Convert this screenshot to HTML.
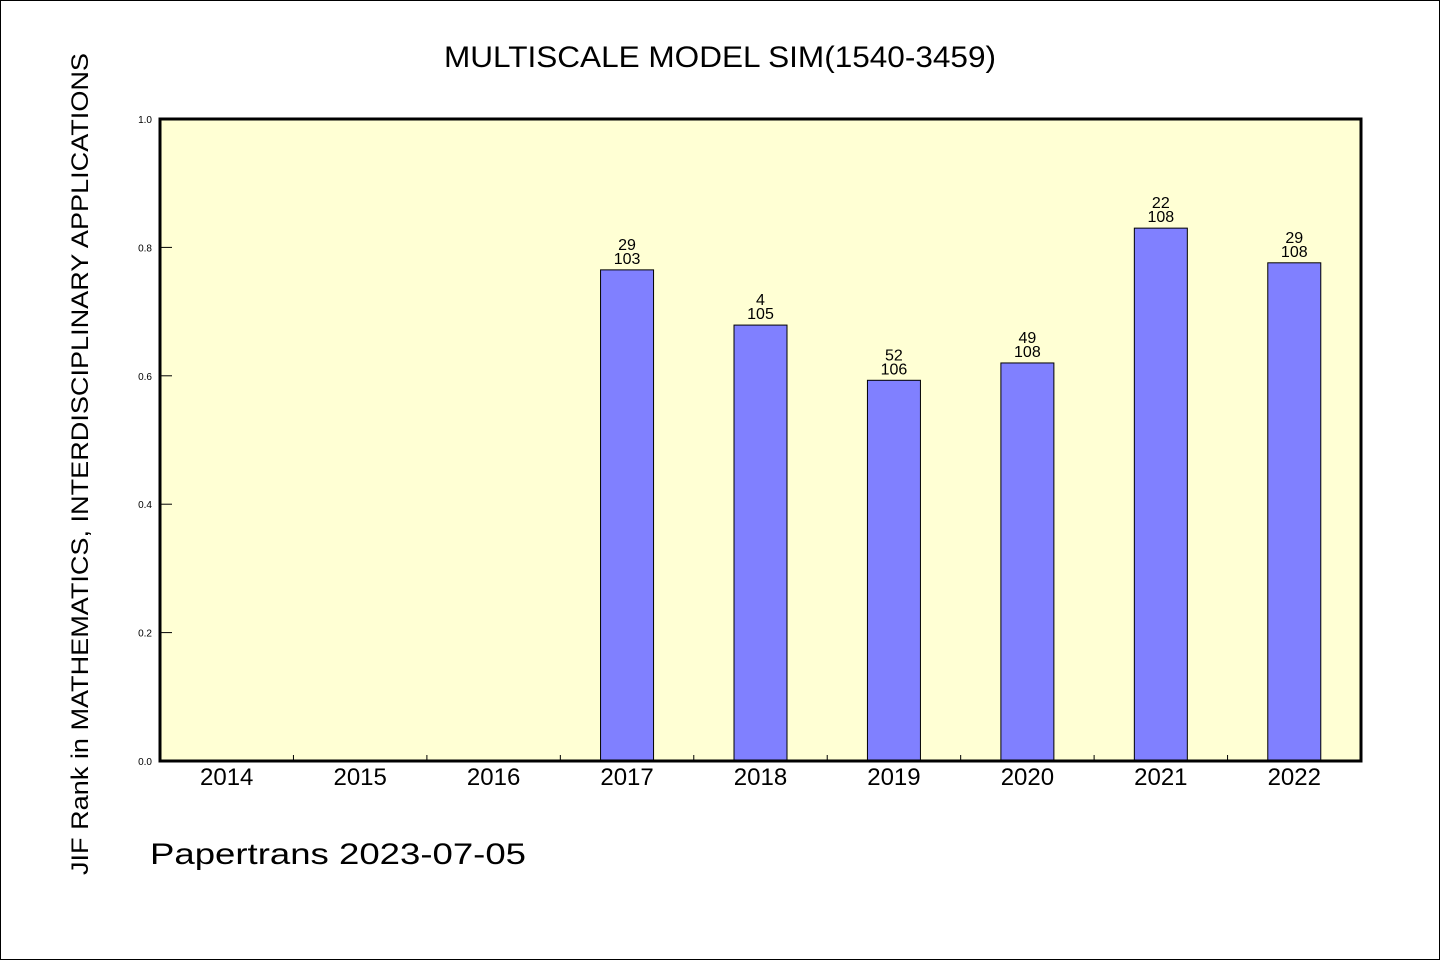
<!DOCTYPE html>
<html><head><meta charset="utf-8"><style>
body{margin:0;background:#fff}
svg{display:block}
text{font-family:"Liberation Sans","WenQuanYi Zen Hei",sans-serif;fill:#000}
</style></head><body>
<svg id="c" width="1440" height="960" xmlns="http://www.w3.org/2000/svg">
<rect x="0.5" y="0.5" width="1439" height="959" fill="#fff" stroke="#000"/>
<text x="720" y="67" font-size="30" text-anchor="middle" textLength="552" lengthAdjust="spacingAndGlyphs">MULTISCALE MODEL SIM(1540-3459)</text>
<text transform="translate(88,464) rotate(-90)" font-size="24" text-anchor="middle" textLength="822" lengthAdjust="spacingAndGlyphs">JIF Rank in MATHEMATICS, INTERDISCIPLINARY APPLICATIONS</text>
<text x="150" y="864" font-size="30" textLength="376" lengthAdjust="spacingAndGlyphs">Papertrans 2023-07-05</text>
<rect x="160" y="119" width="1201" height="642" fill="#ffffd4"/>
<g id="g"></g>
<rect x="160" y="119" width="1201" height="642" fill="none" stroke="#000" stroke-width="3"/>
</svg>
<script>
const categories=["2014","2015","2016","2017","2018","2019","2020","2021","2022"];
const values=[null,null,null,0.765,0.679,0.593,0.620,0.830,0.776];
const ranks=[null,null,null,29,4,52,49,22,29];
const totals=[null,null,null,103,105,106,108,108,108];
const yTicks=[0,0.2,0.4,0.6,0.8,1.0];
const tickLabels=["0.0","0.2","0.4","0.6","0.8","1.0"];
const X0=160,X1=1361,Y0=761,Y1=119;
const bw=(X1-X0)/categories.length;
const xs=i=>X0+bw*(i+0.5);
const ys=v=>Y0-(Y0-Y1)*v;
const g=document.getElementById('g');
const NS='http://www.w3.org/2000/svg';
function mk(t,a){const e=document.createElementNS(NS,t);for(const k in a)e.setAttribute(k,a[k]);g.appendChild(e);return e;}
yTicks.forEach((v,i)=>{
 const l=mk('line',{x1:X0,x2:X0+12,y1:ys(v),y2:ys(v),stroke:'#000','stroke-width':1});
 
 
 const t=mk('text',{x:X0-8,y:ys(v)+4,'font-size':10,'text-anchor':'end'});
 t.textContent=tickLabels[i];
 
 
});
categories.forEach((c,i)=>{
 if(i>0){const l=mk('line',{x1:X0+bw*i,x2:X0+bw*i,y1:Y0,y2:Y0-6,stroke:'#000','stroke-width':1});
 
 }
 const t=mk('text',{x:xs(i),y:785,'font-size':24,'text-anchor':'middle'});
 t.textContent=c;
 
 
 if(values[i]!=null){
  const r=mk('rect',{x:xs(i)-26.5,y:ys(values[i]),width:53,height:Y0-ys(values[i]),fill:'#8080ff',stroke:'#000','stroke-width':1});
  
  
  const a=mk('text',{x:xs(i),y:ys(values[i])-20,'font-size':16,'text-anchor':'middle'});
  a.textContent=ranks[i];
  
  
  const b=mk('text',{x:xs(i),y:ys(values[i])-6,'font-size':16,'text-anchor':'middle'});
  b.textContent=totals[i];
  
  
 }
});
</script>
</body></html>
